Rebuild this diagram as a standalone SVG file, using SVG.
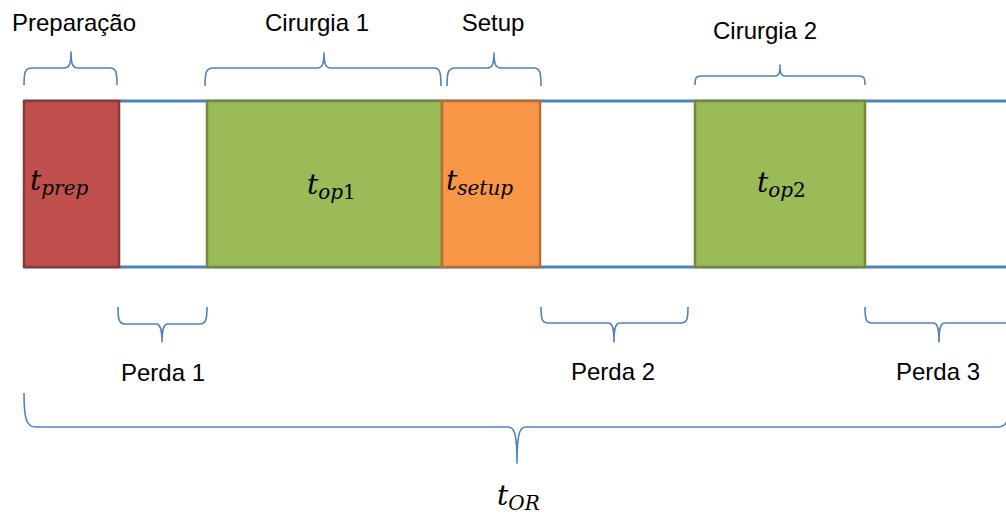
<svg xmlns="http://www.w3.org/2000/svg" width="1006" height="518" viewBox="0 0 1006 518">
  <style>
    .lbl { font-family: "Liberation Sans", Arial, sans-serif; font-size: 24px; fill: #000; text-anchor: middle; }
    .math { font-family: "DejaVu Serif", "Liberation Serif", serif; font-style: italic; font-size: 28px; fill: #000; }
    .sub { font-size: 20px; }
    .up { font-style: normal; }
    .rail { stroke: #4F81BD; stroke-width: 3; fill: none; }
    .brace { stroke: #4F81BD; stroke-width: 1.6; fill: none; stroke-linejoin: round; }
    .prep { fill: #C0504D; stroke: #8C3A38; stroke-width: 2.5; }
    .op { fill: #9BBB59; stroke: #71893F; stroke-width: 2.5; }
    .setup { fill: #F79646; stroke: #B66D31; stroke-width: 2.5; }
  </style>

  <rect width="1006" height="518" fill="#FFFFFF"/>

  <!-- timeline rails -->
  <g id="connectors">
    <line class="rail" x1="24" y1="101" x2="1006" y2="101"/>
    <line class="rail" x1="24" y1="267" x2="1006" y2="267"/>
  </g>

  <!-- blocks -->
  <g id="block-prep">
    <rect class="prep" x="24" y="101" width="95" height="166"/>
    <text class="math" x="30" y="190">t<tspan class="sub" dy="5">prep</tspan></text>
  </g>
  <g id="block-op1">
    <rect class="op" x="207" y="101" width="235" height="166"/>
    <text class="math" x="307" y="194">t<tspan class="sub" dy="5">op</tspan><tspan class="sub up">1</tspan></text>
  </g>
  <g id="block-setup">
    <rect class="setup" x="442" y="101" width="98" height="166"/>
    <text class="math" x="446" y="190">t<tspan class="sub" dy="5">setup</tspan></text>
  </g>
  <g id="block-op2">
    <rect class="op" x="695" y="101" width="170" height="166"/>
    <text class="math" x="757" y="192">t<tspan class="sub" dy="5">op</tspan><tspan class="sub up">2</tspan></text>
  </g>

  <!-- upper braces -->
  <g id="brace-preparacao">
    <path class="brace" d="M24,85 C24,72 25,68 32,68 L64,68 C69,68 71,65 71,52 C71,65 73,68 78,68 L110,68 C116,68 117,72 117,85"/>
    <text class="lbl" x="74" y="31">Preparação</text>
  </g>
  <g id="brace-cirurgia1">
    <path class="brace" d="M205,86 C205,73 206,68 213,68 L317,68 C322,68 324,65 324,53 C324,65 326,68 331,68 L434,68 C440,68 441,73 441,86"/>
    <text class="lbl" x="317" y="31">Cirurgia 1</text>
  </g>
  <g id="brace-setup">
    <path class="brace" d="M447,86 C447,73 448,68 455,68 L487,68 C492,68 494,65 494,53 C494,65 496,68 501,68 L534,68 C540,68 541,73 541,86"/>
    <text class="lbl" x="493" y="31">Setup</text>
  </g>
  <g id="brace-cirurgia2">
    <path class="brace" d="M695,85 C695,78 696,76 701,76 L775,76 C779,76 780,73 780,65 C780,73 781,76 785,76 L859,76 C864,76 865,78 865,85"/>
    <text class="lbl" x="765" y="39">Cirurgia 2</text>
  </g>

  <!-- lower braces -->
  <g id="brace-perda1">
    <path class="brace" d="M118,307 C118,319 119,324 125,324 L156,324 C160,324 162,328 162,342 C162,328 164,324 168,324 L200,324 C206,324 207,319 207,307"/>
    <text class="lbl" x="163" y="381">Perda 1</text>
  </g>
  <g id="brace-perda2">
    <path class="brace" d="M541,307 C541,319 542,323 548,323 L608,323 C612,323 614,327 614,342 C614,327 616,323 620,323 L681,323 C687,323 688,319 688,307"/>
    <text class="lbl" x="613" y="380">Perda 2</text>
  </g>
  <g id="brace-perda3">
    <path class="brace" d="M865,307 C865,319 866,323 872,323 L933,323 C937,323 939,327 939,342 C939,327 941,323 945,323 L1006,323 C1012,323 1013,319 1013,307"/>
    <text class="lbl" x="938" y="380">Perda 3</text>
  </g>

  <!-- total room time -->
  <g id="brace-total">
    <path class="brace" d="M24,393 C24,418 26,427 36,427 L508,427 C514,427 517,432 517,463 C517,432 520,427 526,427 L998,427 C1008,427 1010,418 1010,393"/>
    <text class="math" x="497" y="505">t<tspan class="sub" dy="5">OR</tspan></text>
  </g>
</svg>
